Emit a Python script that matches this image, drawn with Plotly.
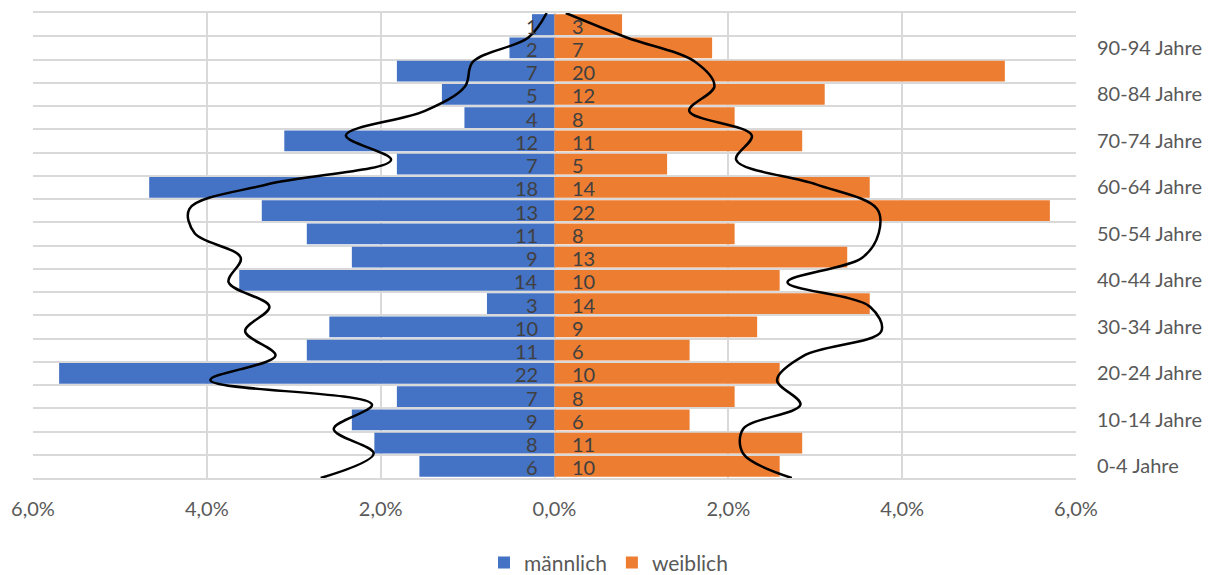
import plotly.graph_objects as go

# Age groups, youngest first (bottom of the pyramid)
age_groups = [f"{a}-{a + 4} Jahre" for a in range(0, 100, 5)]

# Head counts per age group
male_counts = [6, 8, 9, 7, 22, 11, 10, 3, 14, 9, 11, 13, 18, 7, 12, 4, 5, 7, 2, 1]
female_counts = [10, 11, 6, 8, 10, 6, 9, 14, 10, 13, 8, 22, 14, 5, 11, 8, 12, 20, 7, 3]

# Reference population shares in percent (drawn as smooth outlines)
male_ref = [2.69, 2.08, 2.54, 2.10, 3.96, 3.21, 3.56, 3.28, 3.75, 3.61,
            4.14, 4.20, 3.30, 1.88, 2.40, 1.49, 1.03, 0.94, 0.30, 0.09]
female_ref = [2.73, 2.17, 2.17, 2.83, 2.56, 2.87, 3.76, 3.63, 2.68, 3.54,
              3.73, 3.71, 3.01, 2.09, 2.27, 1.55, 1.84, 1.62, 0.83, 0.13]

# X-axis ticks (percent) and their German labels
x_ticks = [-6, -4, -2, 0, 2, 4, 6]
x_tick_labels = ["6,0%", "4,0%", "2,0%", "0,0%", "2,0%", "4,0%", "6,0%"]

BLUE = "#4472C4"
ORANGE = "#ED7D31"
GRID = "#D9D9D9"
TEXT = "#595959"
FONT = "Lato, 'Open Sans', sans-serif"

total = sum(male_counts) + sum(female_counts)
male_share = [-c / total * 100 for c in male_counts]
female_share = [c / total * 100 for c in female_counts]
pos = list(range(len(age_groups)))

fig = go.Figure()

fig.add_trace(go.Bar(
    y=pos, x=male_share, orientation="h", name="männlich",
    marker=dict(color=BLUE, line=dict(width=0)),
    hovertext=age_groups,
))
fig.add_trace(go.Bar(
    y=pos, x=female_share, orientation="h", name="weiblich",
    marker=dict(color=ORANGE, line=dict(width=0)),
    hovertext=age_groups,
))

# Reference outlines on their own vertical scale spanning the plot height
fig.add_trace(go.Scatter(
    x=[-v for v in male_ref], y=pos, yaxis="y2", mode="lines",
    line=dict(color="black", width=2.5, shape="spline", smoothing=1.0),
    showlegend=False, hoverinfo="skip",
))
fig.add_trace(go.Scatter(
    x=female_ref, y=pos, yaxis="y2", mode="lines",
    line=dict(color="black", width=2.5, shape="spline", smoothing=1.0),
    showlegend=False, hoverinfo="skip",
))

# Count labels next to the centre line
label_font = dict(family=FONT, size=20, color="#404040")
annotations = []
for i, (m, f) in enumerate(zip(male_counts, female_counts)):
    annotations.append(dict(
        x=0, y=i, xref="x", yref="y", text=str(m), showarrow=False,
        xanchor="right", xshift=-15, yshift=-1, font=label_font,
    ))
    annotations.append(dict(
        x=0, y=i, xref="x", yref="y", text=str(f), showarrow=False,
        xanchor="left", xshift=15, yshift=-1, font=label_font,
    ))

fig.update_layout(
    width=1217, height=575,
    margin=dict(l=33, r=141, t=13, b=97),
    paper_bgcolor="white", plot_bgcolor="white",
    barmode="overlay", bargap=0.1,
    font=dict(family=FONT, size=20, color=TEXT),
    annotations=annotations,
    xaxis=dict(
        range=[-6, 6], tickvals=x_ticks, ticktext=x_tick_labels,
        showgrid=True, gridcolor=GRID, gridwidth=2,
        zeroline=False, ticks="",
        showline=True, mirror=True, linecolor=GRID, linewidth=2,
        ticklabelstandoff=12,
        tickfont=dict(size=20, color=TEXT),
    ),
    yaxis=dict(
        range=[-0.5, len(age_groups) - 0.5], side="right",
        tickvals=pos[::2], ticktext=age_groups[::2],
        showgrid=False, zeroline=False, showline=False, ticks="",
        ticklabelstandoff=20,
        tickfont=dict(size=20, color=TEXT),
        minor=dict(tick0=-0.5, dtick=1, showgrid=True,
                   gridcolor=GRID, gridwidth=2, ticks=""),
    ),
    yaxis2=dict(
        range=[0, len(age_groups) - 1], overlaying="y", visible=False,
        showgrid=False, zeroline=False,
    ),
    legend=dict(
        orientation="h", xref="container", yref="container",
        x=0.5, xanchor="center", y=0.021, yanchor="middle",
        font=dict(size=21, color=TEXT), traceorder="normal",
        itemwidth=30,
    ),
    showlegend=True,
)

fig.write_html("out.html")
